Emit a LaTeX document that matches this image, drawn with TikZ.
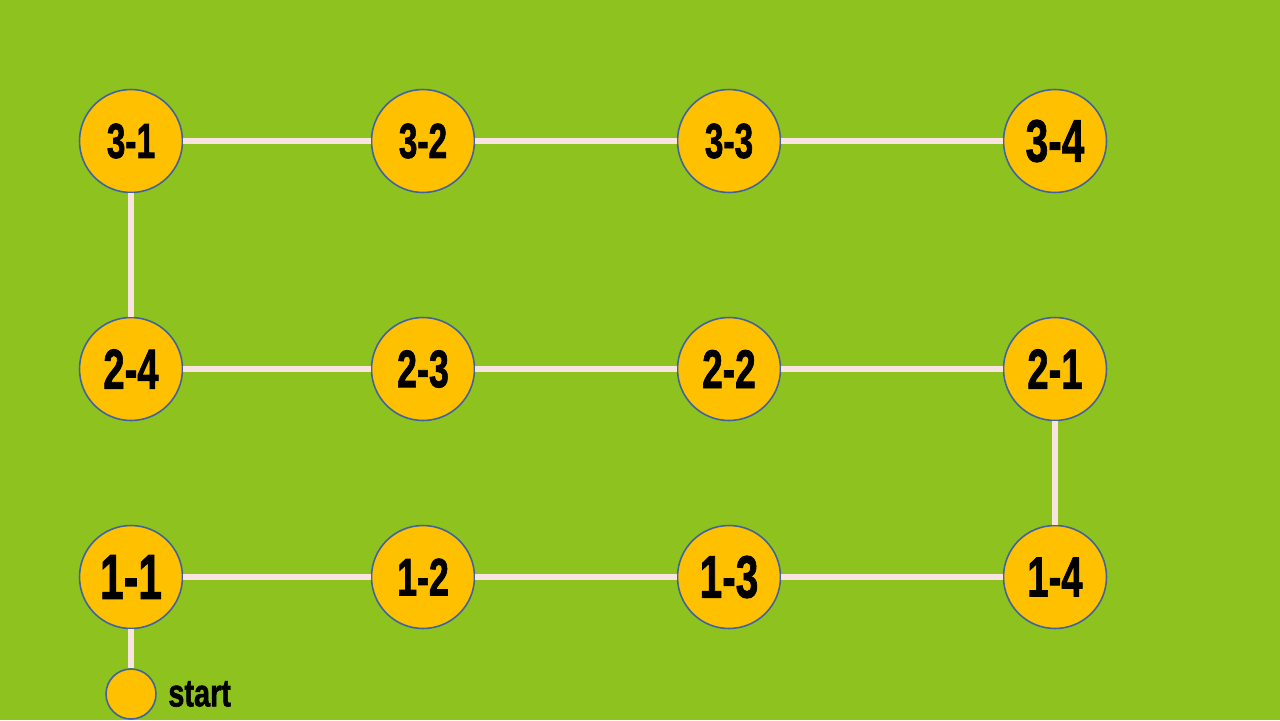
\documentclass[tikz,border=0pt]{standalone}
\usepackage{fontspec}
\setmainfont{Liberation Sans}
\newfontfamily\heavy{Liberation Sans Bold}[FakeBold=1.6]
\definecolor{field}{HTML}{8DC21F}
\definecolor{dot}{HTML}{FFC000}
\definecolor{rim}{HTML}{3F62A0}
\definecolor{lane}{HTML}{F8E4E0}
% squeezed heavy label, #1 = size in pt
\newcommand{\squeeze}[2]{\fontsize{#1}{#1}\selectfont\heavy\scalebox{0.68}[1]{#2}}

\begin{document}
\begin{tikzpicture}[x=0.02cm, y=-0.02cm,
  stopcircle/.style={circle, draw=rim, line width=0.9pt, fill=dot,
    minimum size=2.06cm, inner sep=0pt},
  lanestyle/.style={draw=lane, line width=0.12cm}]
  \fill[field] (0,0) rectangle (1280,720);
  % stations
  \foreach \nm/\x/\y/\txt/\sz in {31/131/141/3-1/28, 32/423/141/3-2/28,
      33/729/141/3-3/28, 34/1055/141/3-4/34,
      24/131/369/2-4/32, 23/423/369/2-3/30, 22/729/369/2-2/31, 21/1055/369/2-1/32,
      11/131/577/1-1/36, 12/423/577/1-2/30, 13/729/577/1-3/34, 14/1055/577/1-4/32}
    \node[stopcircle] (n\nm) at (\x,\y) {\squeeze{\sz}{\txt}};
  \node[stopcircle, minimum size=1cm] (go) at (131,694) {};
  \node[anchor=west, inner sep=0pt] (golabel) at (168,694) {\scalebox{1.1}[1]{\squeeze{22}{start}}};
  % lanes
  \draw[lanestyle] (go) -- (n11);
  \draw[lanestyle] (n11) -- (n12);
  \draw[lanestyle] (n12) -- (n13);
  \draw[lanestyle] (n13) -- (n14);
  \draw[lanestyle] (n14) -- (n21);
  \draw[lanestyle] (n21) -- (n22);
  \draw[lanestyle] (n22) -- (n23);
  \draw[lanestyle] (n23) -- (n24);
  \draw[lanestyle] (n24) -- (n31);
  \draw[lanestyle] (n31) -- (n32);
  \draw[lanestyle] (n32) -- (n33);
  \draw[lanestyle] (n33) -- (n34);
\end{tikzpicture}
\end{document}
